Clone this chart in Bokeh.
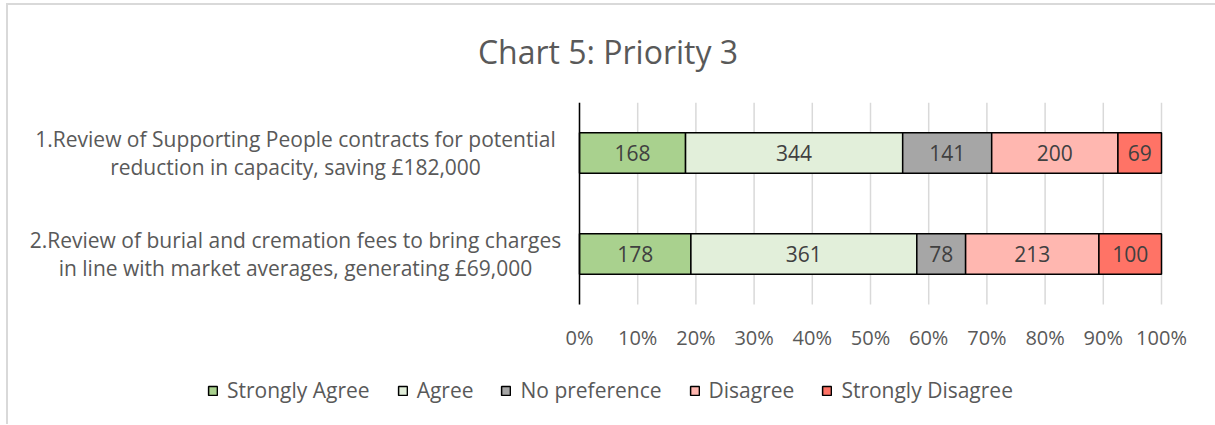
from bokeh.plotting import figure
from bokeh.models import ColumnDataSource, Range1d, Legend, LegendItem
from bokeh.embed import file_html
from bokeh.resources import INLINE
from bokeh.core.properties import value

# ---------------- data ----------------
categories = [
    "1.Review of Supporting People contracts for potential\nreduction in capacity, saving £182,000",
    "2.Review of burial and cremation fees to bring charges\nin line with market averages, generating £69,000",
]
responses = ["Strongly Agree", "Agree", "No preference", "Disagree", "Strongly Disagree"]
strongly_agree = [168, 178]
agree = [344, 361]
no_preference = [141, 78]
disagree = [200, 213]
strongly_disagree = [69, 100]
colors = ["#a9d18e", "#e2efda", "#a6a6a6", "#ffb7b0", "#ff7366"]
x_ticks = [0.0, 0.1, 0.2, 0.3, 0.4, 0.5, 0.6, 0.7, 0.8, 0.9, 1.0]
x_tick_labels = ["0%", "10%", "20%", "30%", "40%", "50%", "60%", "70%", "80%", "90%", "100%"]
title_text = "Chart 5: Priority 3"

# ---------------- layout constants ----------------
W, H = 1215, 425
TOP = 103            # frame top (px)
ROW_PX = 101         # pixels per category row
AXIS_PX = 579        # pixel position of 0%
SCALE_PX = 582       # pixels for 0..100%
LABEL_PX = 295       # centre of the category labels
TICK_GAP_PX = 33     # tick label centre below plot area
LEGEND_X = 207       # legend left edge (px)
LEGEND_Y = 20        # legend bottom edge above canvas bottom (px)
BAR_H = 0.4
FONT = "Open Sans"
TXT = "#595959"

n = len(categories)
ypos = [n - 1 - i for i in range(n)]          # first category on top
y_top = ypos[0] + 0.5
y_bottom_area = ypos[-1] - 0.5
frame_h = H - TOP
y_min = y_top - frame_h / ROW_PX

series = [strongly_agree, agree, no_preference, disagree, strongly_disagree]
keys = ["sa", "a", "np", "d", "sd"]
totals = [sum(s[i] for s in series) for i in range(n)]

data = {"y": ypos}
for k, s in zip(keys, series):
    data[k] = [v / t for v, t in zip(s, totals)]
source = ColumnDataSource(data)

# data-label positions (segment centres)
lx, ly, lt = [], [], []
for i in range(n):
    cum = 0.0
    for s in series:
        frac = s[i] / totals[i]
        lx.append(cum + frac / 2)
        ly.append(ypos[i])
        lt.append(str(s[i]))
        cum += frac
label_src = ColumnDataSource(dict(x=lx, y=ly, text=lt))

cat_src = ColumnDataSource(dict(
    x=[(LABEL_PX - AXIS_PX) / SCALE_PX] * n, y=ypos, text=categories))

tick_src = ColumnDataSource(dict(
    x=x_ticks, y=[y_bottom_area - TICK_GAP_PX / ROW_PX] * len(x_ticks),
    text=x_tick_labels,
    y0=[y_bottom_area] * len(x_ticks), y1=[y_top] * len(x_ticks)))

p = figure(
    frame_width=W, frame_height=frame_h,
    x_range=Range1d(-AXIS_PX / SCALE_PX, (W - AXIS_PX) / SCALE_PX),
    y_range=Range1d(y_min, y_top + 0.0),
    output_backend="svg", toolbar_location=None, tools="",
    min_border_left=0, min_border_right=0, min_border_top=0, min_border_bottom=0,
)
p.outline_line_color = None
p.background_fill_alpha = 0
p.border_fill_alpha = 0
p.styles = {
    "background-image": "linear-gradient(#d9d9d9,#d9d9d9), linear-gradient(#d9d9d9,#d9d9d9)",
    "background-size": "2px 100%, 100% 2px",
    "background-position": "6px 3px, 6px 3px",
    "background-repeat": "no-repeat",
}
p.xaxis.visible = False
p.yaxis.visible = False
p.grid.visible = False

# title
p.title.text = title_text
p.title.align = "center"
p.title.vertical_align = "middle"
p.title.text_font = FONT
p.title.text_font_size = "32px"
p.title.text_font_style = "normal"
p.title.text_color = TXT
p.title.standoff = 57

# vertical gridlines at the x ticks
p.segment(x0="x", x1="x", y0="y0", y1="y1", source=tick_src,
          line_color="#d9d9d9", line_width=1.5)

renderers = p.hbar_stack(keys, y="y", height=BAR_H, source=source,
                         fill_color=colors, line_color="black", line_width=1.5)

# y axis line at 0%
p.segment(x0=[x_ticks[0]], x1=[x_ticks[0]], y0=[y_bottom_area], y1=[y_top],
          line_color="black", line_width=1.5)

p.text(x="x", y="y", text="text", source=label_src, text_align="center",
       text_baseline="middle", text_font=value(FONT), text_font_size="21px",
       text_color="#404040")

# category labels
p.text(x="x", y="y", text="text", source=cat_src, text_align="center",
       text_baseline="middle", text_font=value(FONT), text_font_size="21px",
       text_color=TXT, text_line_height=1.0)

# x tick labels
p.text(x="x", y="y", text="text", source=tick_src, text_align="center",
       text_baseline="middle", text_font=value(FONT), text_font_size="20px",
       text_color=TXT)

legend = Legend(
    items=[LegendItem(label=r, renderers=[rend]) for r, rend in zip(responses, renderers)],
    orientation="horizontal", location=(LEGEND_X, LEGEND_Y),
    label_text_font=FONT, label_text_font_size="21px", label_text_color=TXT,
    glyph_width=11, glyph_height=11, label_standoff=9, spacing=27,
    border_line_color=None, background_fill_alpha=0, padding=0, margin=0,
)
p.add_layout(legend, "center")

open("out.html", "w").write(file_html(p, INLINE))
